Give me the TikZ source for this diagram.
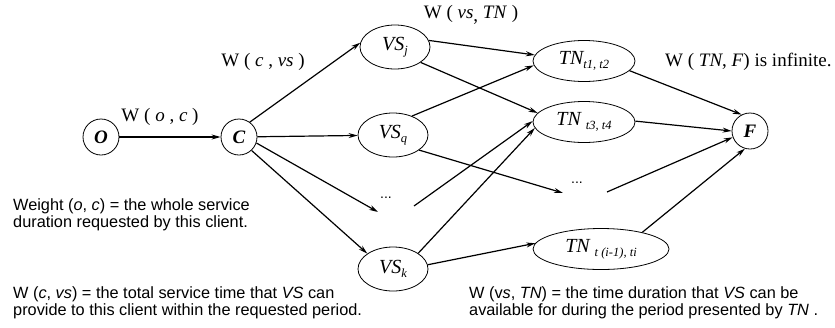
\documentclass[tikz,border=0pt]{standalone}
\usepackage{fontspec}
\setmainfont{Liberation Serif}
\newfontfamily\arialfont{Liberation Sans}
\usetikzlibrary{arrows.meta,shapes.geometric}
% small italic index set slightly below the baseline
\newcommand{\lowidx}[1]{\raisebox{-0.45ex}{\fontsize{12.5}{12.5}\selectfont\itshape #1}}

\begin{document}
\begin{tikzpicture}[x=1pt,y=-1pt,
  endpt/.style={circle,draw,line width=0.8pt,minimum size=36pt,inner sep=0pt,
    font=\fontsize{19}{19}\selectfont\bfseries\itshape},
  vsnode/.style={ellipse,draw,line width=0.8pt,minimum width=70pt,minimum height=44pt,
    inner sep=0pt,font=\fontsize{20}{20}\selectfont\itshape},
  tnnode/.style={ellipse,draw,line width=0.8pt,minimum width=102pt,minimum height=41pt,
    inner sep=0pt,font=\fontsize{20}{20}\selectfont\itshape},
  dots/.style={font=\arialfont\fontsize{14}{14}\selectfont,inner sep=0pt},
  wlabel/.style={font=\fontsize{19}{19}\selectfont,inner sep=0pt},
  note/.style={font=\arialfont\fontsize{16.3}{17}\selectfont,align=left,inner sep=0pt,anchor=north west},
  link/.style={line width=1.2pt,-{Stealth[length=9pt,width=5pt]}}]
\useasboundingbox (0,0) rectangle (835,327);

% source, client and sink
\node[endpt] (O) at (101,137) {O};
\node[endpt] (C) at (239,137) {C};
\node[endpt] (F) at (750,131) {F};

% video servers
\node[vsnode] (VSj) at (395,47)  {VS\lowidx{j}};
\node[vsnode] (VSq) at (393,135) {VS\lowidx{q}};
\node[vsnode] (VSk) at (393,269) {VS\lowidx{k}};
\node[dots] (dA) at (386,198) {...};
\coordinate (dAin)  at (378,212);
\coordinate (dAout) at (414,206);

% time nodes
\node[tnnode] (T1) at (584,61)  {TN\lowidx{t1, t2}};
\node[tnnode] (T2) at (584,122) {TN \lowidx{t3, t4}};
\node[tnnode,minimum width=136pt] (T3) at (601,249) {TN \lowidx{t (i-1), ti}};
\node[dots] (dB) at (577,183) {...};
\coordinate (dBin)  at (563,193);
\coordinate (dBout) at (607,192);

% edges
\draw[link] (O) -- (C);
\draw[link] (C.54) -- (VSj.173);
\draw[link] (C) -- (VSq);
\draw[link] (C.-19) -- (dAin);
\draw[link] (C.-47) -- (VSk.149);

\draw[link] (VSj.11) -- (T1.173);
\draw[link] (VSj.-31) -- (T2.169);
\draw[link] (VSq.45) -- (T1.185);
\draw[link] (VSq.-30) -- (dBin);
\draw[link] (dAout) -- (T2.179);
\draw[link] (VSk.32) -- (T2.187);
\draw[link] (VSk.7) -- (T3.175);

\draw[link] (T1.-12) -- (F.117);
\draw[link] (T2.1) -- (F.180);
\draw[link] (dBout) -- (F.200);
\draw[link] (T3.22) -- (F.254);

% weights
\node[wlabel] (wOC) at (160,117) {W ( \textit{o} , \textit{c} )};
\node[wlabel] (wCV) at (263,62) {W ( \textit{c} , \textit{vs} )};
\node[wlabel] (wVT) at (471,15) {W ( \textit{vs}\raisebox{-0.4ex}{,} \textit{TN} )};
\node[wlabel,anchor=west] (wTF) at (665,62) {W ( \textit{TN}, \textit{F}) is infinite.};

% explanations
\node[note] (n1) at (13,198) {Weight (\textit{o}, \textit{c}) = the whole service\\duration requested by this client.};
\node[note] (n2) at (13,286) {W (\textit{c}, \textit{vs}) = the total service time that \textit{VS} can\\provide to this client within the requested period.};
\node[note] (n3) at (469,286) {W (v\textit{s}, \textit{TN}) = the time duration that \textit{VS} can be\\available for during the period presented by \textit{TN} .};
\end{tikzpicture}
\end{document}
